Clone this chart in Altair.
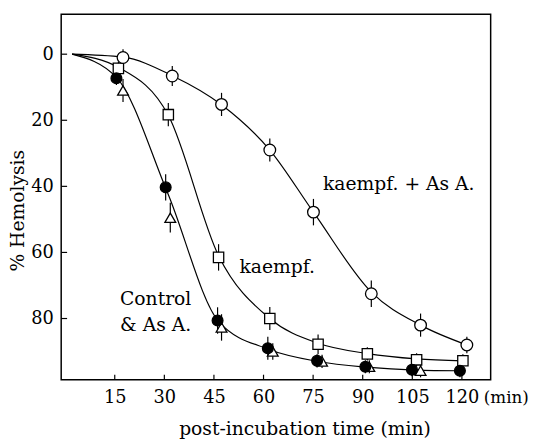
import altair as alt
import pandas as pd

# ---- data ----
series_names = ["kaempf. + As A.", "kaempf.", "Control", "As A."]

kas_x = [17.5, 32.4, 47.3, 61.9, 75.1, 92.6, 107.5, 121.5]
kas_y = [1.0, 6.6, 15.2, 29.0, 47.8, 72.5, 82.0, 88.0]
kas_err = [2.5, 3.0, 3.5, 3.5, 4.0, 4.0, 3.5, 2.5]

k_x = [16.1, 31.2, 46.4, 61.9, 76.5, 91.4, 106.3, 120.3]
k_y = [4.3, 18.3, 61.5, 80.0, 87.8, 90.7, 92.5, 92.8]
k_err = [2.0, 3.5, 4.0, 3.5, 3.0, 2.0, 2.0, 2.0]

c_x = [15.5, 30.4, 46.1, 61.3, 76.2, 90.8, 104.9, 119.4]
c_y = [7.3, 40.3, 80.6, 89.0, 92.8, 94.6, 95.5, 95.8]
c_err = [2.0, 4.0, 4.0, 3.5, 2.0, 2.0, 2.0, 2.0]

a_x = [17.5, 31.8, 47.3, 62.8, 77.7, 92.0, 107.5]
a_y = [11.0, 49.5, 82.7, 90.0, 93.0, 94.6, 95.8]
a_err = [3.5, 4.5, 4.0, 2.5, 2.0, 2.0, 2.0]

# fitted curves
kas_curve_x = [2.1, 17.5, 32.4, 47.3, 61.9, 75.1, 92.6, 107.5, 121.5]
kas_curve_y = [0.0, 0.9, 6.5, 15.3, 29.0, 47.8, 72.0, 82.0, 88.0]
k_curve_x = [2.1, 16.1, 31.2, 46.4, 61.9, 76.5, 91.4, 106.3, 120.3]
k_curve_y = [0.0, 4.0, 18.5, 61.0, 80.0, 87.5, 90.6, 92.2, 92.8]
c_curve_x = [2.1, 15.5, 31.0, 46.5, 61.5, 76.5, 91.0, 106.0, 119.4]
c_curve_y = [0.0, 7.0, 42.0, 81.0, 89.3, 93.0, 94.7, 95.6, 95.8]

x_ticks = [15, 30, 45, 60, 75, 90, 105, 120]
y_ticks = [0, 20, 40, 60, 80]

labels_text = ["kaempf. + As A.", "kaempf.", "Control", "& As A."]
labels_x = [78.0, 52.7, 16.6, 16.6]
labels_y = [39.2, 64.5, 74.1, 82.1]

FONT = "DejaVu Serif"
FS = 19
TFS = 18
W, H = 436, 371

def pts(xs, ys, es, name):
    return pd.DataFrame({"t": xs, "h": ys, "lo": [y - e for y, e in zip(ys, es)],
                         "hi": [y + e for y, e in zip(ys, es)], "s": name})

d_kas = pts(kas_x, kas_y, kas_err, series_names[0])
d_k = pts(k_x, k_y, k_err, series_names[1])
d_c = pts(c_x, c_y, c_err, series_names[2])
d_a = pts(a_x, a_y, a_err, series_names[3])

curves = pd.concat([
    pd.DataFrame({"t": kas_curve_x, "h": kas_curve_y, "s": "kas", "o": range(len(kas_curve_x))}),
    pd.DataFrame({"t": k_curve_x, "h": k_curve_y, "s": "k", "o": range(len(k_curve_x))}),
    pd.DataFrame({"t": c_curve_x, "h": c_curve_y, "s": "c", "o": range(len(c_curve_x))}),
])

xscale = alt.Scale(domain=[-1.2, 128.7], nice=False, zero=False)
yscale = alt.Scale(domain=[-12.1, 98.5], reverse=True, nice=False, zero=False)

xenc = alt.X("t:Q", scale=xscale, axis=alt.Axis(
    values=x_ticks, ticks=False, domain=False, grid=False,
    labelFont=FONT, labelFontSize=TFS, labelColor="black", labelPadding=9,
    title="post-incubation time (min)", titleFont=FONT, titleFontSize=FS,
    titleFontWeight="normal", titleColor="black",
    titleX=247, titleY=50, titleBaseline="middle", titleAnchor="start", titleAlign="center"))
yenc = alt.Y("h:Q", scale=yscale, axis=alt.Axis(
    values=y_ticks, ticks=False, domain=False, grid=False,
    labelFont=FONT, labelFontSize=TFS, labelColor="black", labelPadding=8,
    title="% Hemolysis", titleFont=FONT, titleFontSize=FS,
    titleFontWeight="normal", titleColor="black", titleAngle=270,
    titleX=-44, titleY=199, titleBaseline="middle", titleAlign="center", titleAnchor="start"))

lines = alt.Chart(curves).mark_line(interpolate="monotone", color="black", strokeWidth=1.2).encode(
    x=xenc, y=yenc, detail="s:N", order="o:Q")

def errbars(d):
    return alt.Chart(d).mark_rule(color="black", strokeWidth=1.2).encode(
        x="t:Q", y="lo:Q", y2="hi:Q")

def markers(d, shape, fill, size):
    return alt.Chart(d).mark_point(shape=shape, filled=True, fill=fill, stroke="black",
                                   strokeWidth=1.3, size=size, opacity=1).encode(x="t:Q", y="h:Q")

xt = alt.Chart(pd.DataFrame({"t": x_ticks})).mark_rule(color="black", strokeWidth=1.2).encode(
    x="t:Q", y=alt.value(H), y2=alt.value(H - 5))
yt = alt.Chart(pd.DataFrame({"h": y_ticks})).mark_rule(color="black", strokeWidth=1.2).encode(
    y="h:Q", x=alt.value(0), x2=alt.value(6))

ann = alt.Chart(pd.DataFrame({"t": labels_x, "h": labels_y, "txt": labels_text})).mark_text(
    font=FONT, fontSize=FS, align="left", baseline="middle", color="black").encode(
    x="t:Q", y="h:Q", text="txt:N")

unit = alt.Chart(pd.DataFrame({"txt": ["(min)"]})).mark_text(
    font=FONT, fontSize=17, align="left", baseline="middle", color="black").encode(
    x=alt.value(429), y=alt.value(390), text="txt:N")

chart = alt.layer(
    lines,
    errbars(d_kas), errbars(d_k), errbars(d_c), errbars(d_a),
    markers(d_a, "triangle-up", "white", 120),
    markers(d_k, "square", "white", 110),
    markers(d_kas, "circle", "white", 140),
    markers(d_c, "circle", "black", 120),
    xt, yt, ann, unit,
).properties(
    width=W, height=H,
    autosize=alt.AutoSizeParams(type="none"),
    padding={"left": 54, "top": 3, "right": 44, "bottom": 60},
    background="white",
).configure_view(stroke="black", strokeWidth=1.5)

chart.save("out.html", embed_options={"renderer": "svg", "actions": False})
